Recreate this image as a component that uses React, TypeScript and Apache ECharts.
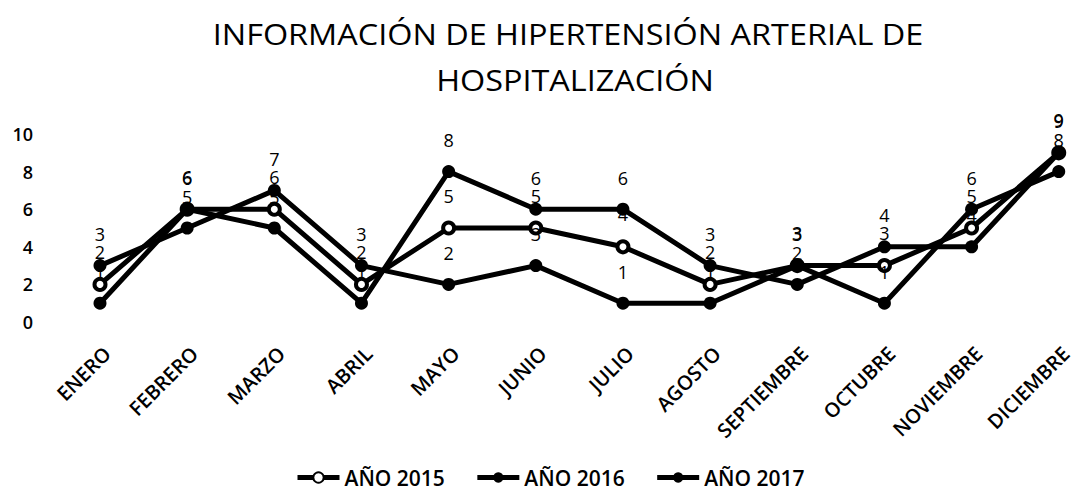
import React, { useEffect, useRef } from "react";
import * as echarts from "echarts";

const months = [
  "ENERO", "FEBRERO", "MARZO", "ABRIL", "MAYO", "JUNIO",
  "JULIO", "AGOSTO", "SEPTIEMBRE", "OCTUBRE", "NOVIEMBRE", "DICIEMBRE",
];
const serie2015 = [2, 6, 6, 2, 5, 5, 4, 2, 3, 3, 5, 9];
const serie2016 = [3, 5, 7, 3, 2, 3, 1, 1, 3, 1, 6, 8];
const serie2017 = [1, 6, 5, 1, 8, 6, 6, 3, 2, 4, 4, 9];
const seriesNames = ["AÑO 2015", "AÑO 2016", "AÑO 2017"];
const titleLines = ["INFORMACIÓN DE HIPERTENSIÓN ARTERIAL DE", "HOSPITALIZACIÓN"];

const FONT = "'Open Sans', 'Noto Sans', sans-serif";

export default function App() {
  const ref = useRef<HTMLDivElement>(null);
  useEffect(() => {
    if (!ref.current) return;
    const chart = echarts.init(ref.current, null, { renderer: "svg" });
    const mk = (name: string, data: number[], open: boolean, z: number) => ({
      name,
      type: "line",
      data,
      z,
      symbol: "circle",
      symbolSize: open ? 11 : 13,
      showSymbol: true,
      lineStyle: { color: "#000", width: 5 },
      itemStyle: open
        ? { color: "#fff", borderColor: "#000", borderWidth: 4 }
        : { color: "#000", borderColor: "#000", borderWidth: 0 },
      label: {
        show: true,
        position: "top",
        distance: 16,
        color: "#000",
        fontSize: 18,
        fontFamily: FONT,
      },
      emphasis: { disabled: true },
    });
    chart.setOption({
      animation: false,
      textStyle: { fontFamily: FONT },
      graphic: [
        {
          type: "text",
          x: 568,
          y: 33,
          scaleX: 1.08,
          style: {
            text: titleLines[0],
            font: `30px ${FONT}`,
            fill: "#000",
            textAlign: "center",
            textVerticalAlign: "middle",
          },
        },
        {
          type: "text",
          x: 575,
          y: 79,
          scaleX: 1.08,
          style: {
            text: titleLines[1],
            font: `30px ${FONT}`,
            fill: "#000",
            textAlign: "center",
            textVerticalAlign: "middle",
          },
        },
      ],
      legend: {
        bottom: 4,
        left: 290,
        itemWidth: 42,
        itemHeight: 13,
        itemGap: 30,
        lineStyle: { width: 5, color: "#000" },
        textStyle: { color: "#000", fontSize: 21, fontWeight: 600, fontFamily: FONT },
        data: seriesNames,
      },
      grid: { left: 100, right: 7, top: 134, bottom: 175, containLabel: false },
      xAxis: {
        type: "category",
        data: months,
        boundaryGap: false,
        axisLine: { show: false },
        axisTick: { show: false },
        axisLabel: {
          rotate: 45,
          margin: 21,
          verticalAlign: "top",
          color: "#000",
          fontSize: 20,
          fontWeight: 600,
          fontFamily: FONT,
          interval: 0,
        },
      },
      yAxis: {
        type: "value",
        min: 0,
        max: 10,
        interval: 2,
        axisLine: { show: false },
        axisTick: { show: false },
        splitLine: { show: false },
        axisLabel: {
          margin: 67,
          color: "#000",
          fontSize: 18,
          fontWeight: 600,
          fontFamily: FONT,
        },
      },
      series: [
        mk(seriesNames[0], serie2015, true, 2),
        mk(seriesNames[1], serie2016, false, 3),
        mk(seriesNames[2], serie2017, false, 4),
      ],
    });
    return () => chart.dispose();
  }, []);
  return (
    <div
      ref={ref}
      style={{ position: "fixed", left: 0, top: 0, width: 1075, height: 497, background: "#fff" }}
    />
  );
}
